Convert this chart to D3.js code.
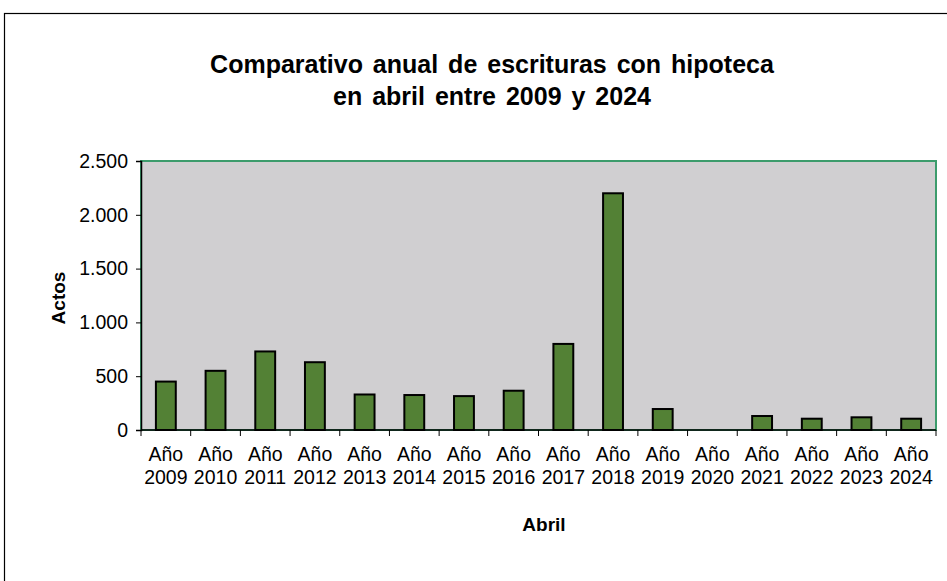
<!DOCTYPE html>
<html>
<head>
<meta charset="utf-8">
<script src="https://cdn.jsdelivr.net/npm/d3@7"></script>
<style>
body{margin:0;background:#fff;}
svg text{font-family:"Liberation Sans",Arial,sans-serif;fill:#000;}
</style>
</head>
<body>
<div id="canvas"></div>
<script>
// data
var years = ['2009','2010','2011','2012','2013','2014','2015','2016','2017','2018','2019','2020','2021','2022','2023','2024'];
var actos = [450,550,730,630,330,325,315,365,800,2200,195,0,130,105,118,105];
var yTicks = [0,500,1000,1500,2000,2500];

var W = 947, H = 581;
var m = {t:161,r:11,b:151,l:141};
var w = W - m.l - m.r,
    h = H - m.t - m.b;

var svg = d3.select('#canvas').append('svg')
    .attr('width',W).attr('height',H);

// outer chart frame
svg.append('rect')
    .attr('x',4.5).attr('y',13.5)
    .attr('width',W+10).attr('height',H+10)
    .attr('fill','#fff').attr('stroke','#000').attr('stroke-width',1.2);

svg.append('text').attr('x',492).attr('y',73)
    .attr('text-anchor','middle').style('font-size','25px').style('font-weight','bold')
    .style('word-spacing','3px')
    .text('Comparativo anual de escrituras con hipoteca');
svg.append('text').attr('x',492).attr('y',105)
    .attr('text-anchor','middle').style('font-size','25px').style('font-weight','bold')
    .style('word-spacing','3px')
    .text('en abril entre 2009 y 2024');

var plot = svg.append('g').attr('transform','translate('+m.l+','+m.t+')');

var x = d3.scaleBand().domain(years).range([0,w]).paddingInner(0.6).paddingOuter(0.3);
var xb = d3.scaleBand().domain(years).range([0,w]);
var y = d3.scaleLinear().domain([0,2500]).range([h,0]);

plot.append('rect').attr('width',w).attr('height',h)
    .attr('fill','#d0cfd1').attr('stroke','#3c9c6c').attr('stroke-width',2);

plot.selectAll('.bar').data(actos).enter().append('rect')
    .attr('class','bar')
    .attr('x',function(d,i){return x(years[i]);})
    .attr('y',function(d){return y(d);})
    .attr('width',x.bandwidth())
    .attr('height',function(d){return h - y(d);})
    .attr('fill','#538135').attr('stroke','#000').attr('stroke-width',2)
    .style('display',function(d){return d>0?null:'none';});

// y axis
var axisY = d3.axisLeft(y).tickValues(yTicks).tickSize(5).tickPadding(8)
    .tickFormat(function(d){return d3.format(',')(d).replace(/,/g,'.');});
var gy = plot.append('g').call(axisY);
gy.select('.domain').attr('stroke','#000').attr('stroke-width',1.5);
gy.selectAll('.tick line').attr('stroke','#000');
gy.selectAll('text').style('font-size','19.5px').attr('fill','#000');

// x axis: ticks at category boundaries
var gx = plot.append('g').attr('transform','translate(0,'+h+')');
gx.append('line').attr('x1',0).attr('x2',w).attr('stroke','#000').attr('stroke-width',1.5);
gx.selectAll('.tk').data(years.concat(['end'])).enter().append('line')
    .attr('x1',function(d,i){return i*xb.step();})
    .attr('x2',function(d,i){return i*xb.step();})
    .attr('y1',0).attr('y2',6).attr('stroke','#000');
var lbl = gx.selectAll('.lbl').data(years).enter().append('text')
    .attr('text-anchor','middle').style('font-size','19.5px')
    .attr('transform',function(d){return 'translate('+(xb(d)+xb.bandwidth()/2)+',0)';});
lbl.append('tspan').attr('x',0).attr('y',31).text('Año');
lbl.append('tspan').attr('x',0).attr('y',54).text(function(d){return d;});

svg.append('text').attr('x',544).attr('y',531)
    .attr('text-anchor','middle').style('font-size','19px').style('font-weight','bold')
    .text('Abril');
svg.append('text').attr('transform','translate(65,298) rotate(-90)')
    .attr('text-anchor','middle').style('font-size','19px').style('font-weight','bold')
    .text('Actos');
</script>
</body>
</html>
